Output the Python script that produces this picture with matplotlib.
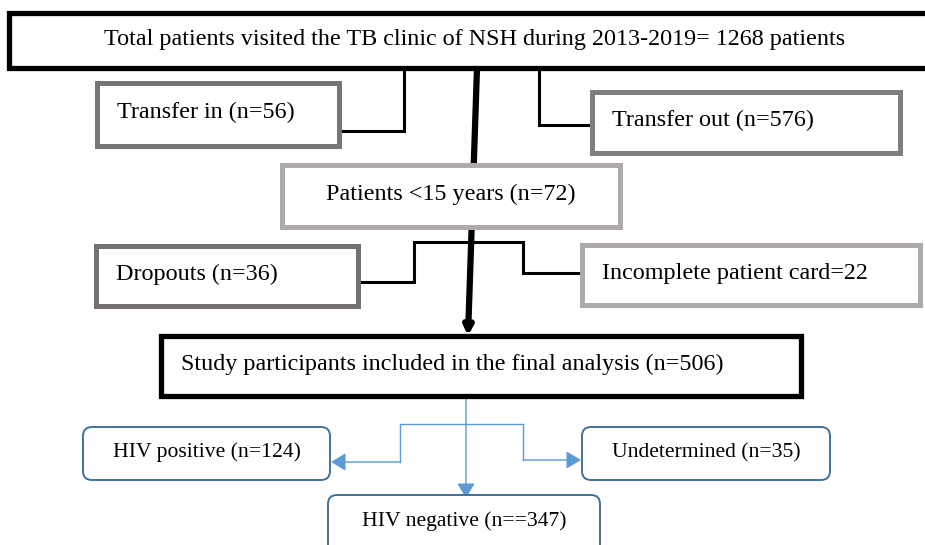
import matplotlib.pyplot as plt
from matplotlib.patches import Rectangle, FancyBboxPatch

plt.rcParams['font.family'] = ['Liberation Serif', 'DejaVu Serif']

# box texts
top_label = "Total patients visited the TB clinic of NSH during 2013-2019= 1268 patients"
excluded_labels = ["Transfer in (n=56)", "Transfer out (n=576)",
                   "Patients <15 years (n=72)", "Dropouts (n=36)",
                   "Incomplete patient card=22"]
final_label = "Study participants included in the final analysis (n=506)"
hiv_labels = ["HIV positive (n=124)", "Undetermined (n=35)", "HIV negative (n==347)"]

# layout in pixels (x0, y0, x1, y1), y goes down
top_box = (9, 13, 940, 68)
excl_boxes = [(97, 83, 339, 146), (592, 92, 900, 153), (282, 165, 620, 227),
              (96, 246, 358, 306), (582, 245, 920, 305)]
excl_colors = ['#767676', '#7f7f7f', '#afabab', '#767171', '#aeaaaa']
excl_align = ['left', 'left', 'center', 'left', 'left']
final_box = (161, 336, 801, 396)
hiv_boxes = [(83, 427, 330, 480), (582, 427, 830, 480), (328, 495, 600, 560)]

BLUE_EDGE = '#41719c'
BLUE_LINE = '#5b9bd5'
FS = 17.4
FS_HIV = 15.6

fig = plt.figure(figsize=(9.25, 5.45), dpi=100)
ax = fig.add_axes([0, 0, 1, 1])
ax.set_xlim(0, 925)
ax.set_ylim(545, 0)
ax.axis('off')


def rect(box, color, lw):
    x0, y0, x1, y1 = box
    ax.add_patch(Rectangle((x0, y0), x1 - x0, y1 - y0, fill=True,
                           facecolor='white', edgecolor=color, lw=lw, zorder=3))


def label(box, text, align='center', pad=20):
    x0, y0, x1, y1 = box
    yc = (y0 + y1) / 2 - 2
    if align == 'center':
        ax.text((x0 + x1) / 2, yc, text, ha='center', va='center', fontsize=FS, zorder=4)
    else:
        ax.text(x0 + pad, yc, text, ha='left', va='center', fontsize=FS, zorder=4)


# black connectors
k = dict(color='black', lw=2.2, solid_joinstyle='miter', zorder=2)
ax.plot([404, 404, 339], [68, 131, 131], **k)
ax.plot([539, 539, 592], [68, 125, 125], **k)
ax.plot([358, 414, 414, 523, 523, 582], [282, 282, 242, 242, 273, 273], **k)

# main thick line with arrow
ax.annotate("", xy=(468, 336), xytext=(477, 68),
            arrowprops=dict(arrowstyle='-|>', color='black', lw=4.5,
                            mutation_scale=12, shrinkA=0, shrinkB=0), zorder=2)

rect(top_box, 'black', 3.8)
ax.text(475, 39, top_label, ha='center', va='center', fontsize=FS, zorder=4)

for b, c, t, a in zip(excl_boxes, excl_colors, excluded_labels, excl_align):
    rect(b, c, 3.6)
    label(b, t, a)

rect(final_box, 'black', 3.8)
label(final_box, final_label, 'left')

# blue arrows
bk = dict(color=BLUE_LINE, lw=1.0, zorder=2)
ap = dict(arrowstyle='-|>,head_length=0.5,head_width=0.3', color=BLUE_LINE,
          lw=1.0, mutation_scale=18, shrinkA=0, shrinkB=0)
ax.annotate("", xy=(466, 498), xytext=(466, 396), arrowprops=ap, zorder=2)
ax.plot([523, 400, 400], [424, 424, 462], **bk)
ax.annotate("", xy=(331, 462), xytext=(400, 462), arrowprops=ap, zorder=2)
ax.plot([523, 523], [424, 460], **bk)
ax.annotate("", xy=(581, 460), xytext=(523, 460), arrowprops=ap, zorder=2)

for b, t in zip(hiv_boxes, hiv_labels):
    x0, y0, x1, y1 = b
    ax.add_patch(FancyBboxPatch((x0, y0), x1 - x0, y1 - y0,
                                boxstyle='round,pad=0,rounding_size=9',
                                facecolor='white', edgecolor=BLUE_EDGE,
                                lw=1.4, zorder=3))
    yc = (y0 + y1) / 2 - 1 if y1 < 545 else 521
    ax.text((x0 + x1) / 2, yc, t, ha='center', va='center', fontsize=FS_HIV, zorder=4)

fig.savefig('out.png', dpi=100, facecolor='white')
